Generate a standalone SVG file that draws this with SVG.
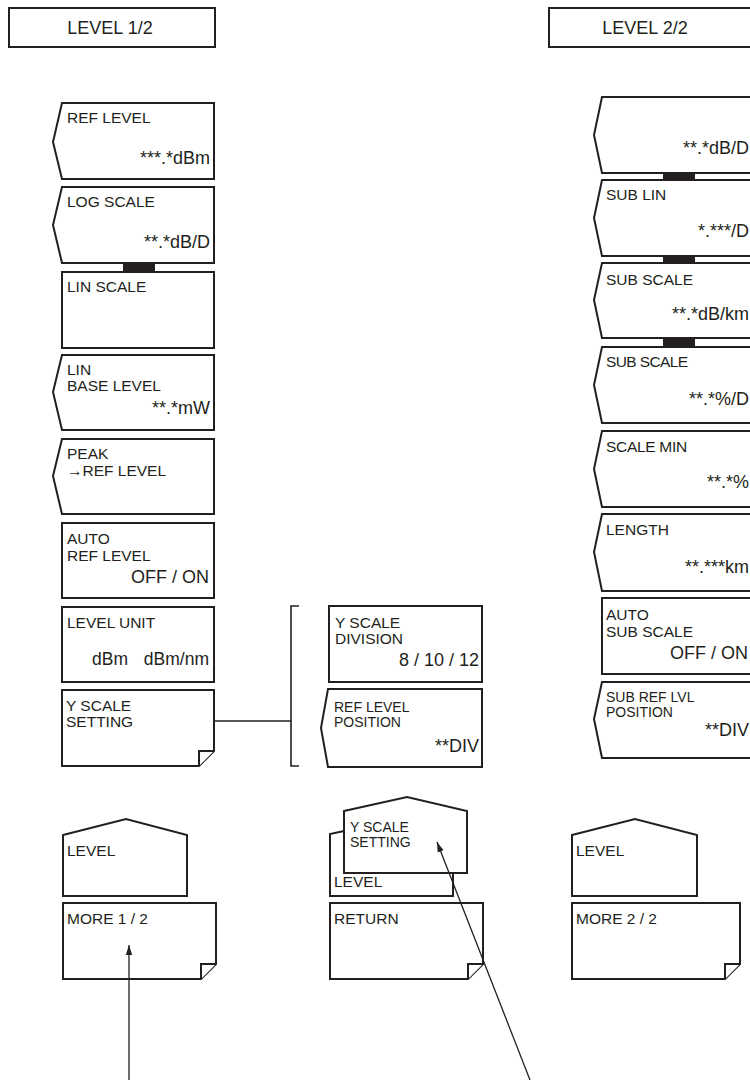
<svg xmlns="http://www.w3.org/2000/svg" width="750" height="1080" viewBox="0 0 750 1080">
<defs>
<style>
.b{fill:#fff;stroke:#231f20;stroke-width:2;stroke-linejoin:miter}
.t{font-family:"Liberation Sans",Arial,sans-serif;font-size:15.5px;fill:#231f20}
.s{font-size:14px}
.v{font-family:"Liberation Sans",Arial,sans-serif;font-size:18px;fill:#231f20;text-anchor:end}
.h{font-family:"Liberation Sans",Arial,sans-serif;font-size:18px;fill:#231f20;text-anchor:middle}
.bar{fill:#231f20}
.c{fill:none;stroke:#231f20;stroke-width:1.3}
</style>
<marker id="ah" viewBox="0 0 10 10" refX="10" refY="5" markerWidth="10" markerHeight="10" markerUnits="userSpaceOnUse" orient="auto">
<path d="M0,1.8 L10,5 L0,8.2 Z" fill="#231f20"/>
</marker>
</defs>
<rect width="750" height="1080" fill="#fff"/>

<g id="hdr1"><rect class="b" x="9" y="8" width="206" height="39"/><text class="h" x="110" y="34">LEVEL 1/2</text></g>
<g id="hdr2"><rect class="b" x="549" y="8" width="210" height="39"/><text class="h" x="645" y="34">LEVEL 2/2</text></g>

<!-- left column -->
<g id="refLevel"><path class="b" d="M62,103 H214 V179 H62 L53,142 Z"/><text class="t" x="67" y="123">REF LEVEL</text><text class="v" x="210" y="164">***.*dBm</text></g>
<g id="logScale"><path class="b" d="M62,187 H214 V263 H62 L53,225 Z"/><text class="t" x="67" y="207">LOG SCALE</text><text class="v" x="210" y="248">**.*dB/D</text></g>
<g id="linScale"><rect class="b" x="62" y="272" width="152" height="76"/><text class="t" x="67" y="292">LIN SCALE</text></g>
<rect class="bar" x="123" y="262" width="32" height="10"/>
<g id="linBase"><path class="b" d="M62,355 H214 V430 H62 L53,392 Z"/><text class="t" x="67" y="375">LIN</text><text class="t" x="67" y="391">BASE LEVEL</text><text class="v" x="210" y="414">**.*mW</text></g>
<g id="peak"><path class="b" d="M62,439 H214 V514 H62 L53,476 Z"/><text class="t" x="67" y="459">PEAK</text><text class="t" x="67" y="476">→REF LEVEL</text></g>
<g id="autoRef"><rect class="b" x="62" y="523" width="152" height="75"/><text class="t" x="67" y="544">AUTO</text><text class="t" x="67" y="561">REF LEVEL</text><text class="v" x="209" y="583">OFF / ON</text></g>
<g id="levelUnit"><rect class="b" x="62" y="607" width="152" height="75"/><text class="t" x="67" y="628">LEVEL UNIT</text><text class="t" x="92" y="665" style="font-size:17.5px">dBm</text><text class="v" x="209" y="665" style="font-size:17.5px">dBm/nm</text></g>
<g id="yScaleSet"><path class="b" d="M62,690 H214 V751 L199,766 H62 Z"/><path class="b" d="M199,766 V751 H214" fill="none"/><text class="t" x="66" y="711">Y SCALE</text><text class="t" x="66" y="727">SETTING</text></g>

<g id="level1"><path class="b" d="M63,835 L126,819 L187,835 V896 H63 Z"/><text class="t" x="67" y="856">LEVEL</text></g>
<g id="more1"><path class="b" d="M63,903 H216 V964 L201,979 H63 Z"/><path class="b" d="M201,979 V964 H216" fill="none"/><text class="t" x="67" y="924">MORE 1 / 2</text></g>

<!-- middle column -->
<g id="yDiv"><rect class="b" x="329" y="606" width="153" height="76"/><text class="t" x="335" y="628">Y SCALE</text><text class="t" x="335" y="644">DIVISION</text><text class="v" x="479" y="666">8 / 10 / 12</text></g>
<g id="refPos"><path class="b" d="M328,689 H482 V767 H328 L321,728 Z"/><text class="t s" x="334" y="712">REF LEVEL</text><text class="t s" x="334" y="727">POSITION</text><text class="v" x="479" y="752">**DIV</text></g>

<g id="levelBack"><path class="b" d="M344,831 L330,834 V896 H453 V873"/><text class="t" x="334" y="887">LEVEL</text></g>
<g id="ySetTab"><path class="b" d="M344,811 L407,797 L467,811 V873 H344 Z"/><text class="t s" x="350" y="832">Y SCALE</text><text class="t s" x="350" y="847">SETTING</text></g>
<g id="return"><path class="b" d="M330,903 H483 V964 L468,979 H330 Z"/><path class="b" d="M468,979 V964 H483" fill="none"/><text class="t" x="334" y="924">RETURN</text></g>

<!-- right column -->
<g id="r1"><path class="b" d="M602,97 H760 V173 H602 L594,135 Z"/><text class="v" x="749" y="154">**.*dB/D</text></g>
<g id="r2"><path class="b" d="M602,180 H760 V256 H602 L594,218 Z"/><text class="t" x="606" y="200">SUB LIN</text><text class="v" x="749" y="237">*.***/D</text></g>
<g id="r3"><path class="b" d="M602,263 H760 V338 H602 L594,300 Z"/><text class="t" x="606" y="285">SUB SCALE</text><text class="v" x="749" y="320">**.*dB/km</text></g>
<g id="r4"><path class="b" d="M602,347 H760 V423 H602 L594,385 Z"/><text class="t" x="606" y="367" letter-spacing="-0.6">SUB SCALE</text><text class="v" x="749" y="405">**.*%/D</text></g>
<rect class="bar" x="663" y="172" width="32" height="9"/>
<rect class="bar" x="663" y="255" width="32" height="9"/>
<rect class="bar" x="663" y="337" width="32" height="10"/>
<g id="r5"><path class="b" d="M602,431 H760 V507 H602 L594,469 Z"/><text class="t" x="606" y="452" letter-spacing="-0.3">SCALE  MIN</text><text class="v" x="749" y="488">**.*%</text></g>
<g id="r6"><path class="b" d="M602,514 H760 V591 H602 L594,552 Z"/><text class="t" x="606" y="535">LENGTH</text><text class="v" x="749" y="573">**.***km</text></g>
<g id="r7"><rect class="b" x="602" y="598" width="158" height="76"/><text class="t" x="606" y="620">AUTO</text><text class="t" x="606" y="637">SUB SCALE</text><text class="v" x="748" y="659">OFF / ON</text></g>
<g id="r8"><path class="b" d="M602,682 H760 V758 H602 L594,719 Z"/><text class="t s" x="606" y="702">SUB REF LVL</text><text class="t s" x="606" y="717">POSITION</text><text class="v" x="749" y="736">**DIV</text></g>

<g id="level2"><path class="b" d="M572,835 L635,819 L697,835 V896 H572 Z"/><text class="t" x="576" y="856">LEVEL</text></g>
<g id="more2"><path class="b" d="M572,903 H740 V964 L725,979 H572 Z"/><path class="b" d="M725,979 V964 H740" fill="none"/><text class="t" x="576" y="924">MORE 2 / 2</text></g>

<g id="connectors">
<line class="c" x1="214" y1="721" x2="291" y2="721" style="stroke-width:1.6"/>
<path class="c" d="M299,606 H291 V766 H299" style="stroke-width:1.6"/>
<line class="c" x1="129" y1="1080" x2="129" y2="945" marker-end="url(#ah)"/>
<line class="c" x1="530" y1="1080" x2="437" y2="842" marker-end="url(#ah)"/>
</g>
</svg>
